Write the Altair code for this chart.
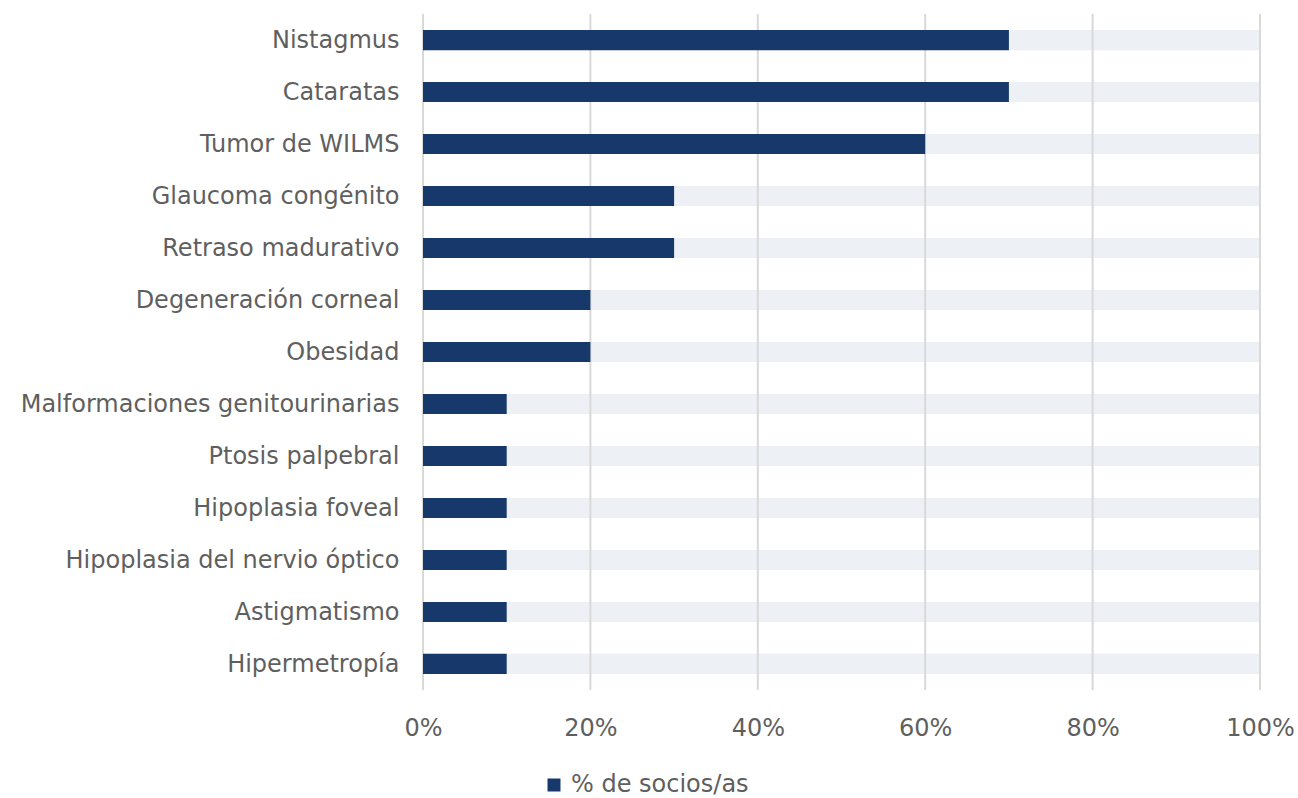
import altair as alt
import pandas as pd

categories = ["Nistagmus", "Cataratas", "Tumor de WILMS", "Glaucoma congénito",
              "Retraso madurativo", "Degeneración corneal", "Obesidad",
              "Malformaciones genitourinarias", "Ptosis palpebral", "Hipoplasia foveal",
              "Hipoplasia del nervio óptico", "Astigmatismo", "Hipermetropía"]
values = [70, 70, 60, 30, 30, 20, 20, 10, 10, 10, 10, 10, 10]
full = [100] * len(categories)
ticks = [0, 20, 40, 60, 80, 100]
series_name = "% de socios/as"

FONT = "DejaVu Sans"
NAVY = "#16386A"
LIGHT = "#EDF0F5"
TEXT = "#5F5F5F"

df = pd.DataFrame({"cat": categories, "val": [v / 100 for v in values],
                   "full": [f / 100 for f in full], "serie": series_name})
grid = pd.DataFrame({"t": [t / 100 for t in ticks]})

yscale = alt.Scale(domain=categories, paddingInner=0.615, paddingOuter=0.31)
xscale = alt.Scale(domain=[0, 1], nice=False)

bg = alt.Chart(df).mark_bar(color=LIGHT).encode(
    y=alt.Y("cat:N", sort=categories, scale=yscale,
            axis=alt.Axis(title=None, ticks=False, domain=False, labelPadding=24,
                          labelFontSize=24, labelColor=TEXT, labelFont=FONT, labelLimit=500,
                          labelBaseline="middle", labelOffset=1)),
    x=alt.X("full:Q", scale=xscale,
            axis=alt.Axis(title=None, format="%", values=[t / 100 for t in ticks], grid=False,
                          ticks=False, domain=False, labelPadding=26, labelFontSize=24,
                          labelFlush=False, labelOverlap=False,
                          labelColor=TEXT, labelFont=FONT)),
)

rules = alt.Chart(grid).mark_rule(color="#D9D9D9", strokeWidth=2).encode(
    x=alt.X("t:Q", scale=xscale),
)

bars = alt.Chart(df).mark_bar().encode(
    y=alt.Y("cat:N", sort=categories, scale=yscale),
    x=alt.X("val:Q", scale=xscale),
    color=alt.Color("serie:N", scale=alt.Scale(range=[NAVY]),
                    legend=alt.Legend(title=None, orient="none", legendX=119, legendY=759,
                                      symbolType="square", symbolSize=169,
                                      symbolStrokeWidth=0, labelFontSize=24, labelLimit=400,
                                      labelOffset=5,
                                      labelColor=TEXT, labelFont=FONT, symbolOffset=0)),
)

chart = alt.layer(bg, rules, bars).properties(
    width=837, height=676,
    autosize="none",
    padding={"left": 423, "top": 14, "right": 38, "bottom": 108},
).configure_view(stroke=None)

chart.save("out.html", embed_options={"renderer": "svg", "actions": False})
